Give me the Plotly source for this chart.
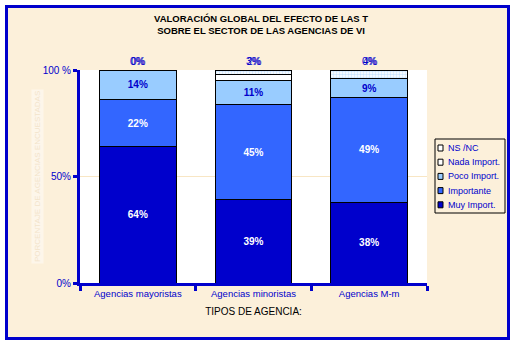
import plotly.graph_objects as go

categories = ["Agencias mayoristas", "Agencias minoristas", "Agencias M-m"]
muy_import = [64, 39, 38]
importante = [22, 45, 49]
poco_import = [14, 11, 9]
nada_import = [0, 3, 0]
ns_nc = [0, 2, 4]

series_names = ["Muy Import.", "Importante", "Poco Import.", "Nada Import.", "NS /NC"]
series_colors = ["#0000CC", "#3366FF", "#99CCFF", "white", "white"]

BLUE = "#0000CC"
BG = "#FCF0DA"

# plot area in pixels
PL, PR, PT, PB = 80, 427, 70, 283
PW, PH = PR - PL, PB - PT


def px(xp):
    return (xp - PL) / PW


def py(yp):
    return (PB - yp) / PH


fig = go.Figure()


def frac(v):
    return [x / 100 for x in v]


label_colors = ["white", "white", BLUE]
data = [muy_import, importante, poco_import, nada_import, ns_nc]
for i, (name, vals, col) in enumerate(zip(series_names, data, series_colors)):
    marker = dict(color=col, line=dict(color="black", width=1))
    if name == "NS /NC":
        marker["pattern"] = dict(shape=".", fgcolor="#99CCFF", bgcolor="white", size=3, solidity=0.5)
    if i < 3:
        kw = dict(text=[f"{v}%" for v in vals], textposition="inside", insidetextanchor="middle",
                  textfont=dict(color=label_colors[i], size=10, family="Arial", weight="bold"))
    else:
        kw = dict(textposition="none")
    fig.add_trace(go.Bar(name=name, x=categories, y=frac(vals), marker=marker, showlegend=False, **kw))

# small-segment labels above bars
for cat, n, s in zip(categories, nada_import, ns_nc):
    for v, dx in ((n, 0), (s, 1)):
        fig.add_annotation(x=cat, y=1.0, yref="y", text=f"{v}%", showarrow=False,
                           yanchor="bottom", yshift=1, xshift=dx,
                           font=dict(color=BLUE, size=10, family="Arial"))

fig.update_layout(
    barmode="stack",
    bargap=0.335,
    width=517, height=344,
    margin=dict(l=PL, r=517 - PR, t=PT, b=344 - PB, autoexpand=False),
    paper_bgcolor="white",
    plot_bgcolor="white",
    showlegend=False,
    font=dict(family="Arial"),
)

fig.update_xaxes(showline=True, linecolor=BLUE, linewidth=3, ticks="outside",
                 tickson="boundaries", ticklen=5, tickwidth=3, tickcolor=BLUE,
                 tickfont=dict(color=BLUE, size=9.5, family="Arial"),
                 title=dict(text="TIPOS DE AGENCIA:", font=dict(color="black", size=10, family="Arial"),
                            standoff=10))
fig.update_yaxes(range=[0, 1], tickvals=[0, 0.5, 1], ticktext=["0%", "50%", "100 %"],
                 showline=True, linecolor=BLUE, linewidth=3, ticks="outside",
                 ticklen=4, tickwidth=3, tickcolor=BLUE,
                 tickfont=dict(color=BLUE, size=10, family="Arial"),
                 showgrid=True, gridcolor="#F8E6C4", gridwidth=1, zeroline=False)

# beige framed background with blue border
fig.add_shape(type="rect", xref="paper", yref="paper",
              x0=px(6.5), x1=px(508.5), y0=py(338.5), y1=py(6.5),
              fillcolor=BG, line=dict(color=BLUE, width=3), layer="below")
# plot area white
fig.add_shape(type="rect", xref="paper", yref="paper", x0=0, x1=1, y0=0, y1=1,
              fillcolor="white", line=dict(width=0), layer="below")

# legend box (drawn manually to match compact spacing)
LX0, LX1, LY0, LY1 = 435, 505, 139, 213
fig.add_shape(type="rect", xref="paper", yref="paper",
              x0=px(LX0), x1=px(LX1), y0=py(LY1), y1=py(LY0),
              fillcolor=BG, line=dict(color="black", width=1), layer="above")
legend_order = list(range(len(series_names)))[::-1]
for row, idx in enumerate(legend_order):
    cy = LY0 + 9 + row * 14.2
    fig.add_shape(type="rect", xref="paper", yref="paper",
                  x0=px(438), x1=px(443), y0=py(cy + 3), y1=py(cy - 3),
                  fillcolor=series_colors[idx] if idx < 3 else "white",
                  line=dict(color="black", width=1), layer="above")
    fig.add_annotation(xref="paper", yref="paper", x=px(446), y=py(cy),
                       text=series_names[idx], showarrow=False, xanchor="left", yanchor="middle",
                       font=dict(color=BLUE, size=9, family="Arial"))

fig.add_annotation(xref="paper", yref="paper", x=px(261), y=py(11),
                   text="<b>VALORACIÓN GLOBAL DEL EFECTO DE LAS T</b><br><b>SOBRE EL SECTOR DE LAS AGENCIAS DE VI</b>",
                   showarrow=False, xanchor="center", yanchor="top",
                   font=dict(color="black", size=9.5, family="Arial"), align="center")

fig.add_annotation(xref="paper", yref="paper", x=px(31), y=0.5,
                   text="PORCENTAJE DE AGENCIAS ENCUESTADAS", textangle=-90,
                   showarrow=False, bgcolor="#FDF6EA",
                   font=dict(color="#F3E4CA", size=8, family="Arial"))

fig.write_html("out.html")
